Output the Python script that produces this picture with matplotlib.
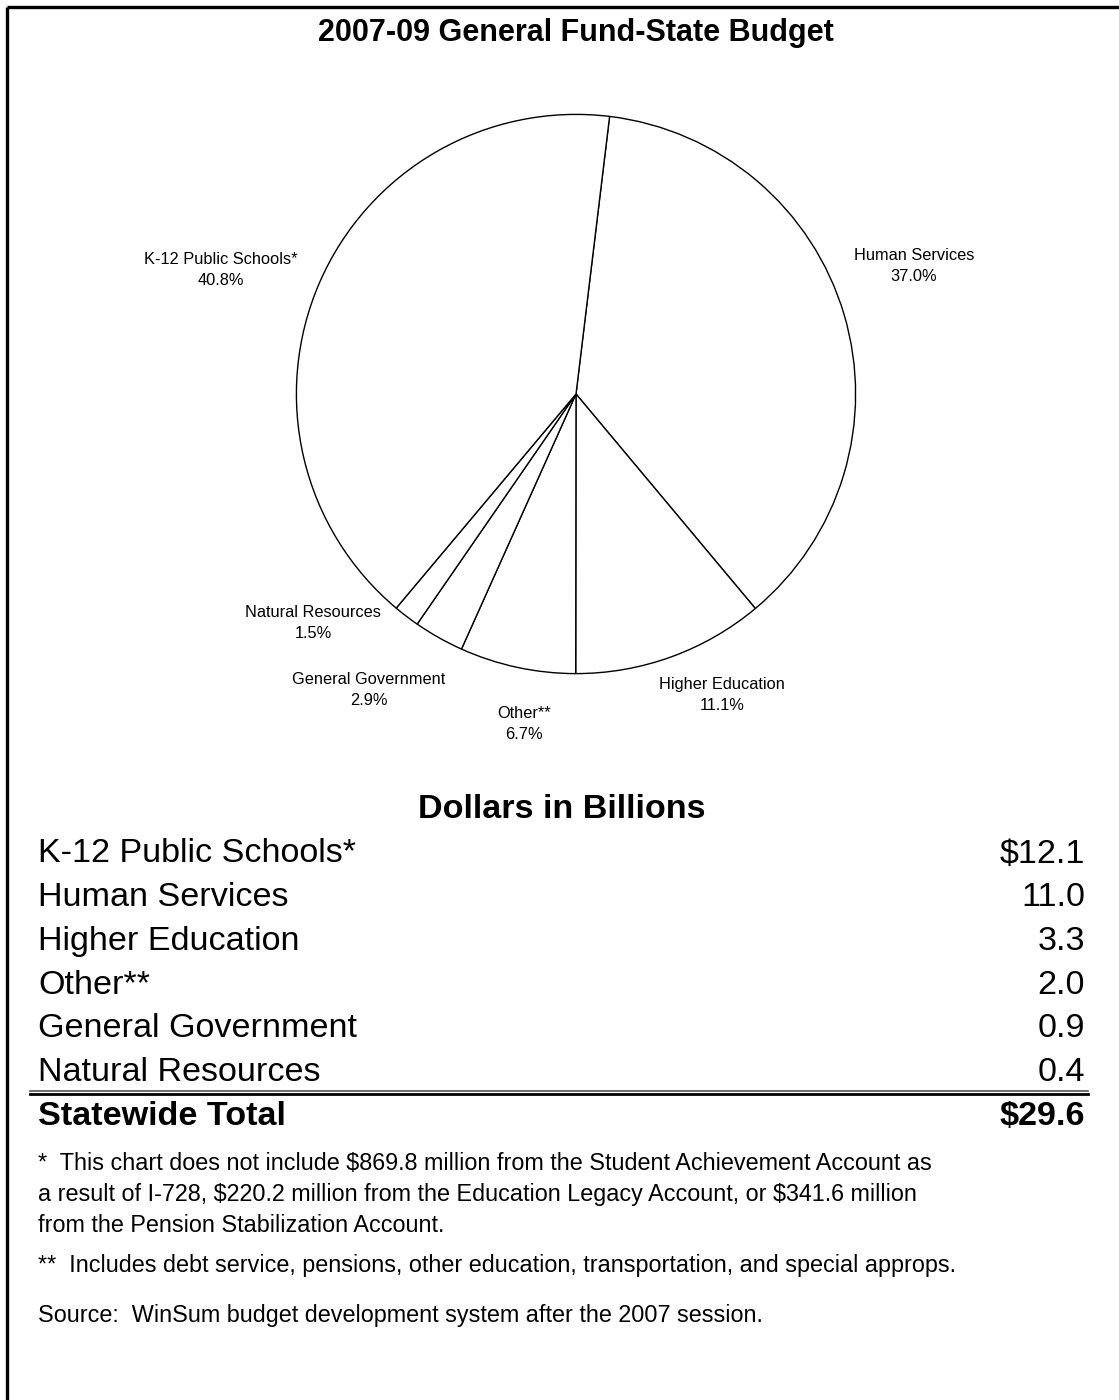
import matplotlib.pyplot as plt

# pie shares (percent), drawn clockwise starting from Human Services
slice_names = ["Human Services", "Higher Education", "Other**",
               "General Government", "Natural Resources", "K-12 Public Schools*"]
slice_pct = [37.0, 11.1, 6.7, 2.9, 1.5, 40.8]

# table of dollars in billions
table_names = ["K-12 Public Schools*", "Human Services", "Higher Education",
               "Other**", "General Government", "Natural Resources"]
table_values = ["$12.1", "11.0", "3.3", "2.0", "0.9", "0.4"]
total_name = "Statewide Total"
total_value = "$29.6"

footnotes = [
    "*  This chart does not include $869.8 million from the Student Achievement Account as\n"
    "a result of I-728, $220.2 million from the Education Legacy Account, or $341.6 million\n"
    "from the Pension Stabilization Account.",
    "**  Includes debt service, pensions, other education, transportation, and special approps.",
    "Source:  WinSum budget development system after the 2007 session.",
]

W, H = 1119, 1400
plt.rcParams['font.family'] = ['Liberation Sans', 'DejaVu Sans']
plt.rcParams['text.parse_math'] = False

fig = plt.figure(figsize=(W / 100, H / 100), dpi=100)

# overlay axes in pixel units for text and rules
ax = fig.add_axes([0, 0, 1, 1])
ax.set_xlim(0, W)
ax.set_ylim(H, 0)
ax.axis('off')

# pie placed by its centre and radius in pixels
cx, cy, r = 576, 394, 281
pax = fig.add_axes([(cx - r) / W, 1 - (cy + r) / H, 2 * r / W, 2 * r / H])
pax.pie(slice_pct, startangle=83.1, counterclock=False,
        colors=['white'] * len(slice_pct),
        wedgeprops=dict(edgecolor='black', linewidth=1.0))
pax.set_xlim(-1.005, 1.005)
pax.set_ylim(-1.005, 1.005)
pax.set_aspect('equal')
pax.axis('off')

# slice label anchors (pixels)
label_pos = [(914, 266), (722, 695), (524, 724), (369, 690), (313, 623), (221, 270)]
for name, pct, (lx, ly) in zip(slice_names, slice_pct, label_pos):
    ax.text(lx, ly, f"{name}\n{pct:.1f}%", ha='center', va='center',
            fontsize=11.8, linespacing=1.45)

# frame: left and top rules
ax.plot([6.5, 6.5], [6.5, H], color='black', lw=2.4, solid_capstyle='butt')
ax.plot([6.5, W], [6.5, 6.5], color='black', lw=2.4, solid_capstyle='butt')

ax.text(576, 33, "2007-09 General Fund-State Budget", ha='center', va='center',
        fontsize=22, fontweight='bold')

ax.text(562, 809, "Dollars in Billions", ha='center', va='center',
        fontsize=24.6, fontweight='bold')

row_y0, row_dy = 854, 43.7
for i, (name, val) in enumerate(zip(table_names, table_values)):
    y = row_y0 + i * row_dy
    ax.text(38, y, name, ha='left', va='center', fontsize=24.6)
    ax.text(1085, y, val, ha='right', va='center', fontsize=24.6)

# double rule above the total row
ax.plot([30, 1088], [1091, 1091], color='#555555', lw=1.2)
ax.plot([30, 1088], [1094, 1094], color='black', lw=2.0)

ty = row_y0 + len(table_names) * row_dy
ax.text(38, ty, total_name, ha='left', va='center', fontsize=24.6, fontweight='bold')
ax.text(1085, ty, total_value, ha='right', va='center', fontsize=24.6, fontweight='bold')

foot_y = [1164, 1266, 1316]
for txt, y in zip(footnotes, foot_y):
    ax.text(38, y - 12, txt, ha='left', va='top', fontsize=16.8, linespacing=1.45)

fig.savefig("out.png", dpi=100)
